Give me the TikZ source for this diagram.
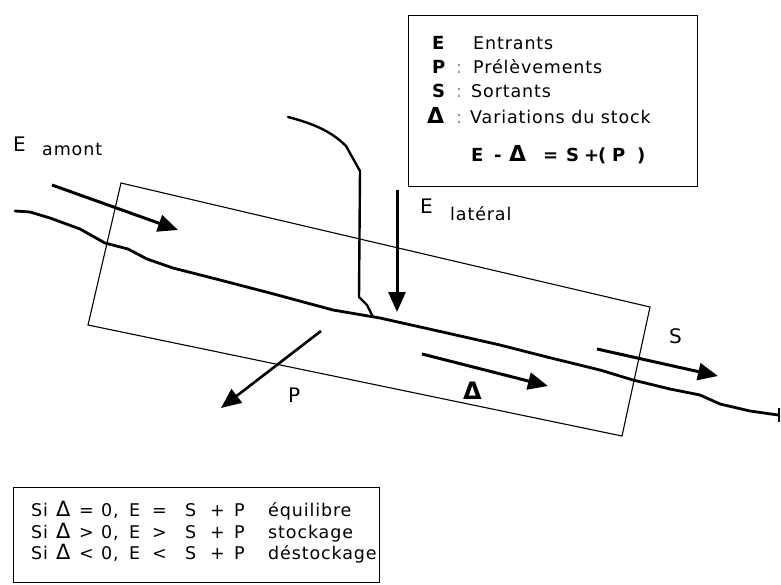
\documentclass[tikz,border=0pt]{standalone}
\usepackage{fontspec}
\setmainfont{DejaVu Sans}[LetterSpace=5]
\usetikzlibrary{arrows.meta}
\begin{document}
\begin{tikzpicture}[x=1pt,y=-1pt,
  river/.style={line width=2.8pt,line join=round,line cap=round},
  flow/.style={line width=3pt,-{Triangle[length=20pt,width=17pt]}},
  thin/.style={line width=1.1pt},
  lbl/.style={inner sep=0pt,anchor=base west,font=\fontsize{20}{24}\selectfont},
  sub/.style={inner sep=0pt,anchor=base west,font=\fontsize{17.5}{21}\selectfont},
  leg/.style={inner sep=0pt,anchor=base west,font=\fontsize{17.5}{21}\selectfont},
  legb/.style={inner sep=0pt,anchor=base west,font=\bfseries\fontsize{18}{21}\selectfont},
  tri/.style={inner sep=0pt,anchor=base west,font=\fontsize{21}{24}\selectfont},
  trib/.style={inner sep=0pt,anchor=base west,font=\bfseries\fontsize{22}{24}\selectfont}]
\useasboundingbox (0,0) rectangle (781,584);
% reach box
\coordinate (r1) at (121,183);
\coordinate (r2) at (650,307);
\coordinate (r3) at (622,436);
\coordinate (r4) at (88,325);
\draw[thin] (r1) -- (r2) -- (r3) -- (r4) -- cycle;
% river
\draw[river] (15,211) -- (30,212) -- (50,218) -- (80,229) -- (105,243) -- (128,249) -- (147,259) -- (173,268)
  -- (220,280) -- (270,293) -- (333,310) -- (380,318) -- (447,333) -- (500,345) -- (547,357)
  -- (600,370) -- (633,380) -- (670,389) -- (700,395) -- (720,404) -- (750,411) -- (778,415);
\draw[line width=1.8pt] (779,408) -- (779,422);
% tributary
\draw[line width=2.4pt,line join=round,line cap=round] (288,117) .. controls (315,124) and (332,132) .. (346,146)
  -- (360,171) -- (359,297) -- (367,305) -- (373,317);
% arrows
\coordinate (ea1) at (52,185); \coordinate (ea2) at (178,230);
\draw[flow] (ea1) -- (ea2);
\coordinate (el1) at (397,190); \coordinate (el2) at (397,312);
\draw[flow] (el1) -- (el2);
\coordinate (p1) at (321,331); \coordinate (p2) at (221,408);
\draw[flow,line width=2.6pt] (p1) -- (p2);
\coordinate (d1) at (422,354); \coordinate (d2) at (548,386);
\draw[flow] (d1) -- (d2);
\coordinate (s1) at (597,349); \coordinate (s2) at (718,376);
\draw[flow] (s1) -- (s2);
% labels
\node[lbl] (tEa) at (13,151) {E};
\node[sub] (tam) at (42,155) {amont};
\node[lbl] (tEl) at (420,213) {E};
\node[sub] (tlat) at (450,220) {latéral};
\node[lbl] (tS) at (669,343) {S};
\node[lbl] (tP) at (288,402) {P};
\node[trib,font=\bfseries\fontsize{24}{26}\selectfont] (tD) at (463,399) {Δ};
% legend top
\node[draw,thin,minimum width=289pt,minimum height=171pt,anchor=north west,inner sep=0pt] (leg) at (408,15) {};
\node[legb] (l1) at (432,49) {E};
\node[legb] (l2) at (432,73) {P};
\node[legb] (l3) at (432,97) {S};
\node[trib] (l4) at (427,123) {Δ};
\node[leg,text=black!45] (c2) at (456,73) {:};
\node[leg,text=black!45] (c3) at (456,97) {:};
\node[leg,text=black!45] (c4) at (456,123) {:};
\node[leg] (t1) at (473,49) {Entrants};
\node[leg] (t2) at (473,73) {Prélèvements};
\node[leg] (t3) at (471,97) {Sortants};
\node[leg] (t4) at (470,123) {Variations du stock};
\node[legb] (f1) at (471,161) {E};
\node[legb] (f2) at (494,161) {-};
\node[trib] (f3) at (509,161) {Δ};
\node[legb] (f4) at (543,161) {=};
\node[legb] (f5) at (566,161) {S};
\node[legb] (f6) at (584,161) {+};
\node[legb] (f7) at (598,161) {(};
\node[legb] (f8) at (612,161) {P};
\node[legb] (f9) at (637,161) {)};
% legend bottom
\node[draw,thin,minimum width=366pt,minimum height=95pt,anchor=north west,inner sep=0pt] (cond) at (13,487) {};
\foreach \y/\s [count=\i] in {516/=,538/>,559/<}{
  \node[leg] (si\i) at (31,\y) {Si};
  \node[tri] (dl\i) at (56,\y) {Δ};
  \node[leg] (o\i) at (79,\y) {\s};
  \node[leg] (z\i) at (101,\y) {0,};
  \node[leg] (e\i) at (129,\y) {E};
  \node[leg] (q\i) at (152,\y) {\s};
  \node[leg] (ss\i) at (185,\y) {S};
  \node[leg] (pl\i) at (210,\y) {+};
  \node[leg] (pp\i) at (234,\y) {P};
}
\node[leg] (m1) at (268,516) {équilibre};
\node[leg] (m2) at (268,538) {stockage};
\node[leg] (m3) at (268,559) {déstockage};
\end{tikzpicture}
\end{document}
